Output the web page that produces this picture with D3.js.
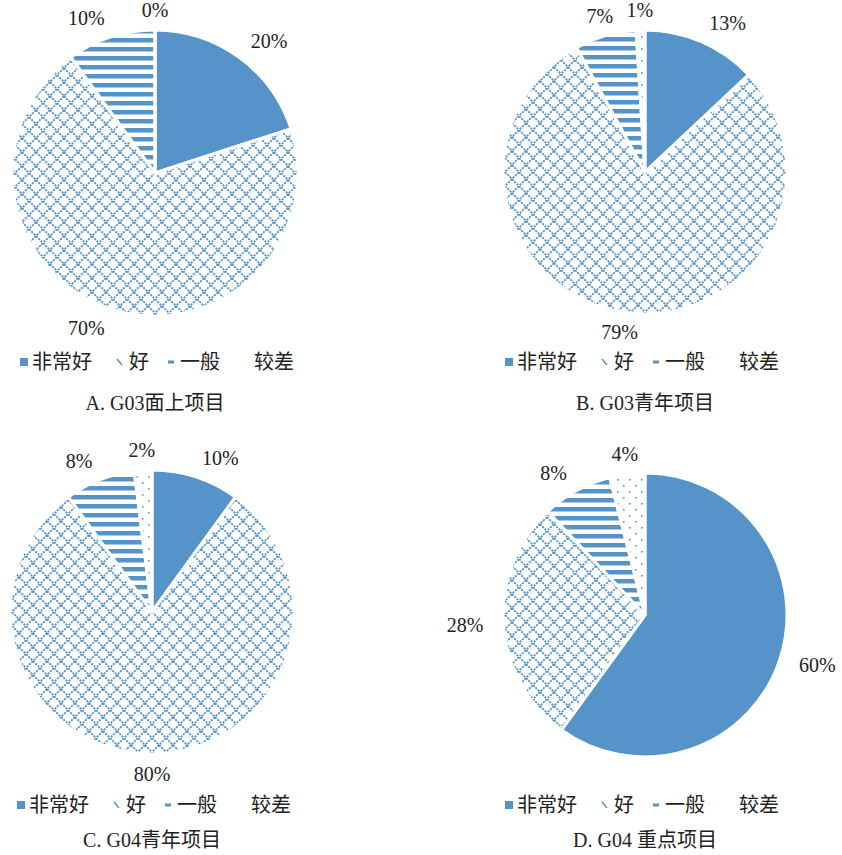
<!DOCTYPE html>
<html><head><meta charset="utf-8">
<script src="https://cdn.jsdelivr.net/npm/d3@7"></script>
<style>body{margin:0;background:#fff}text{font-family:"Liberation Serif","Noto Sans CJK SC",serif;fill:#222}</style>
</head><body>
<svg width="842" height="855"></svg>
<script>
var categories = ["非常好", "好", "一般", "较差"];
var titles = ["A. G03面上项目", "B. G03青年项目", "C. G04青年项目", "D. G04 重点项目"];
var valuesA = [20, 70, 10, 0];
var valuesB = [13, 79, 7, 1];
var valuesC = [10, 80, 8, 2];
var valuesD = [60, 28, 8, 4];

var blue = "#5593c8";
var svg = d3.select("svg");
var defs = svg.append("defs");

// cross hatch for 好
var p1 = defs.append("pattern").attr("id", "cross").attr("patternUnits", "userSpaceOnUse")
  .attr("width", 14).attr("height", 14);
p1.append("path").attr("d", "M0,0L14,14M14,0L0,14").attr("stroke", blue)
  .attr("stroke-width", 1.8).attr("stroke-dasharray", "2.2,1.1");
// stripes for 一般
var p2 = defs.append("pattern").attr("id", "stripe").attr("patternUnits", "userSpaceOnUse")
  .attr("width", 8).attr("height", 9);
p2.append("rect").attr("width", 8).attr("height", 4.5).attr("fill", blue);
// dots for 较差
var p3 = defs.append("pattern").attr("id", "dots").attr("patternUnits", "userSpaceOnUse")
  .attr("width", 12).attr("height", 12);
p3.append("rect").attr("x", 2).attr("y", 2).attr("width", 1.6).attr("height", 1.6).attr("fill", blue);
p3.append("rect").attr("x", 8).attr("y", 8).attr("width", 1.6).attr("height", 1.6).attr("fill", blue);

var fills = [blue, "url(#cross)", "url(#stripe)", "url(#dots)"];

var panels = [
  {vals: valuesA, cx: 155, cy: 173, r: 143, ly: 362, ty: 403, lx: 20},
  {vals: valuesB, cx: 645, cy: 172, r: 142, ly: 362, ty: 403, lx: 505},
  {vals: valuesC, cx: 152, cy: 612, r: 142, ly: 805, ty: 840, lx: 17},
  {vals: valuesD, cx: 645, cy: 615, r: 142, ly: 805, ty: 840, lx: 505}
];

var pie = d3.pie().sort(null).value(function(d){ return d; });

panels.forEach(function(p, i){
  var g = svg.append("g").attr("transform", "translate(" + p.cx + "," + p.cy + ")");
  var arc = d3.arc().innerRadius(0).outerRadius(p.r);
  var arcs = pie(p.vals);
  g.selectAll("path").data(arcs).enter().append("path")
    .attr("d", arc).attr("fill", function(d, j){ return fills[j]; })
    .attr("stroke", "#fff").attr("stroke-width", 3);
  var lr = p.r + 20;
  g.selectAll("text").data(arcs).enter().append("text")
    .attr("x", function(d){ var a = (d.startAngle + d.endAngle) / 2; return Math.sin(a) * lr; })
    .attr("y", function(d){ var a = (d.startAngle + d.endAngle) / 2; return -Math.cos(a) * lr; })
    .attr("dy", "0.35em").attr("font-size", 20)
    .attr("text-anchor", function(d){
      var s = Math.sin((d.startAngle + d.endAngle) / 2);
      return s > 0.3 ? "start" : (s < -0.3 ? "end" : "middle");
    })
    .text(function(d){ return d.data + "%"; });

  // legend
  var offs = [0, 97, 148, 218];
  var lg = svg.append("g").attr("transform", "translate(" + p.lx + "," + p.ly + ")");
  categories.forEach(function(c, j){
    var it = lg.append("g").attr("transform", "translate(" + offs[j] + ",0)");
    if (j === 0) it.append("rect").attr("x", 0).attr("y", -4).attr("width", 8).attr("height", 8).attr("fill", blue);
    if (j === 1) it.append("path").attr("d", "M0,-3L5,3").attr("stroke", blue).attr("stroke-width", 1.5);
    if (j === 2) it.append("rect").attr("x", 0).attr("y", -1.5).attr("width", 6).attr("height", 3).attr("fill", blue);
    it.append("text").attr("x", j === 3 ? 16 : 12).attr("dy", "0.35em").attr("font-size", 20).text(c);
  });
  svg.append("text").attr("x", p.cx).attr("y", p.ty).attr("dy", "0.35em")
    .attr("text-anchor", "middle").attr("font-size", 20).text(titles[i]);
});
</script>
</body></html>
